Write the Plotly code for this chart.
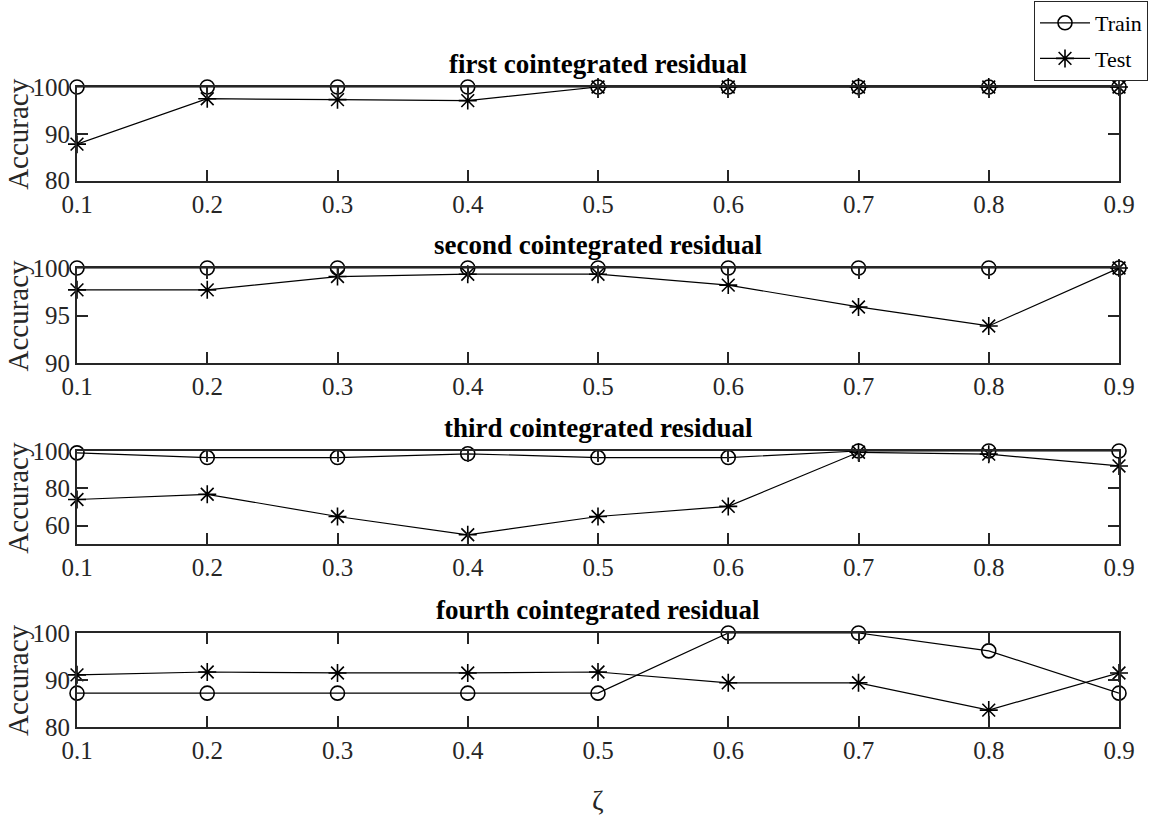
import plotly.graph_objects as go

# Regularisation parameter values on the shared x axis
zeta = [0.1, 0.2, 0.3, 0.4, 0.5, 0.6, 0.7, 0.8, 0.9]
zeta_ticks = ["0.1", "0.2", "0.3", "0.4", "0.5", "0.6", "0.7", "0.8", "0.9"]

titles = [
    "first cointegrated residual",
    "second cointegrated residual",
    "third cointegrated residual",
    "fourth cointegrated residual",
]

# Accuracy (%) for each cointegrated residual
train_1 = [100, 100, 100, 100, 100, 100, 100, 100, 100]
test_1 = [87.8, 97.5, 97.3, 97.1, 100, 100, 100, 100, 100]

train_2 = [100, 100, 100, 100, 100, 100, 100, 100, 100]
test_2 = [97.7, 97.7, 99.1, 99.35, 99.35, 98.2, 95.9, 93.9, 100]

train_3 = [99.0, 96.5, 96.5, 98.5, 96.5, 96.5, 100, 100, 100]
test_3 = [74.0, 76.8, 64.9, 55.1, 64.9, 70.3, 99.3, 98.3, 92.0]

train_4 = [87.2, 87.2, 87.2, 87.2, 87.2, 100, 100, 96.2, 87.2]
test_4 = [91.1, 91.7, 91.5, 91.5, 91.7, 89.4, 89.4, 83.6, 91.5]

train_sets = [train_1, train_2, train_3, train_4]
test_sets = [test_1, test_2, test_3, test_4]

y_ranges = [[80, 100], [90, 100], [50, 100], [80, 100]]
y_ticks = [[80, 90, 100], [90, 95, 100], [60, 80, 100], [80, 90, 100]]

W, H = 1156, 819
FONT = "Liberation Serif"
AX_COLOR = "#262626"

# panel boxes in pixels: left, right, top, bottom
x_left, x_right = 77, 1119
panel_px = [(87, 180.7), (268, 363), (451, 544.3), (633, 727)]

fig = go.Figure()
annotations = []

for i in range(4):
    n = "" if i == 0 else str(i + 1)
    top, bot = panel_px[i]
    ydom = [1 - bot / H, 1 - top / H]
    xdom = [x_left / W, x_right / W]

    fig.add_trace(go.Scatter(
        x=zeta, y=train_sets[i], mode="lines+markers", name="Train",
        legendgroup="train",
        xaxis="x" + n, yaxis="y" + n, showlegend=(i == 0), cliponaxis=False,
        line=dict(color="black", width=1.2),
        marker=dict(symbol="circle-open", size=14, color="black",
                    line=dict(width=1.6, color="black")),
    ))
    fig.add_trace(go.Scatter(
        x=zeta, y=test_sets[i], mode="lines+markers", name="Test",
        legendgroup="test",
        xaxis="x" + n, yaxis="y" + n, showlegend=(i == 0), cliponaxis=False,
        line=dict(color="black", width=1.2),
        marker=dict(symbol="asterisk-open", size=15, color="black",
                    line=dict(width=1.6, color="black")),
    ))

    axis_common = dict(
        showline=True, linecolor=AX_COLOR, linewidth=2, mirror="allticks",
        ticks="inside", ticklen=11, tickwidth=1.5, tickcolor=AX_COLOR,
        showgrid=False, zeroline=False, automargin=False,
        tickfont=dict(family=FONT, size=25, color=AX_COLOR),
    )
    fig.update_layout(**{
        "xaxis" + n: dict(
            domain=xdom, range=[0.1, 0.9], tickvals=zeta, ticktext=zeta_ticks,
            anchor="y" + n, **axis_common),
        "yaxis" + n: dict(
            domain=ydom, range=y_ranges[i], tickvals=y_ticks[i],
            anchor="x" + n, **axis_common),
    })

    # bold panel title
    annotations.append(dict(
        text="<b>" + titles[i] + "</b>", xref="paper", yref="paper",
        x=(x_left + x_right) / 2 / W, y=ydom[1], xanchor="center", yanchor="bottom",
        yshift=6, showarrow=False,
        font=dict(family=FONT, size=27, color="black"),
    ))
    # y axis label
    annotations.append(dict(
        text="Accuracy", xref="paper", yref="paper",
        x=18 / W, y=(ydom[0] + ydom[1]) / 2, xanchor="center", yanchor="middle",
        textangle=-90, showarrow=False,
        font=dict(family=FONT, size=29, color=AX_COLOR),
    ))

# shared x label
annotations.append(dict(
    text="ζ", xref="paper", yref="paper", x=598 / W, y=1 - 800 / H,
    xanchor="center", yanchor="middle", showarrow=False,
    font=dict(family=FONT, size=28, color=AX_COLOR),
))

fig.update_layout(
    width=W, height=H,
    margin=dict(l=0, r=0, t=0, b=0, autoexpand=False),
    paper_bgcolor="white", plot_bgcolor="white",
    annotations=annotations,
    showlegend=True,
    legend=dict(
        x=1148 / W, y=1 - 1 / H, xanchor="right", yanchor="top",
        bgcolor="white", bordercolor=AX_COLOR, borderwidth=1,
        font=dict(family=FONT, size=22, color="black"),
        itemwidth=50, tracegroupgap=4,
    ),
)

fig.write_html("out.html")
